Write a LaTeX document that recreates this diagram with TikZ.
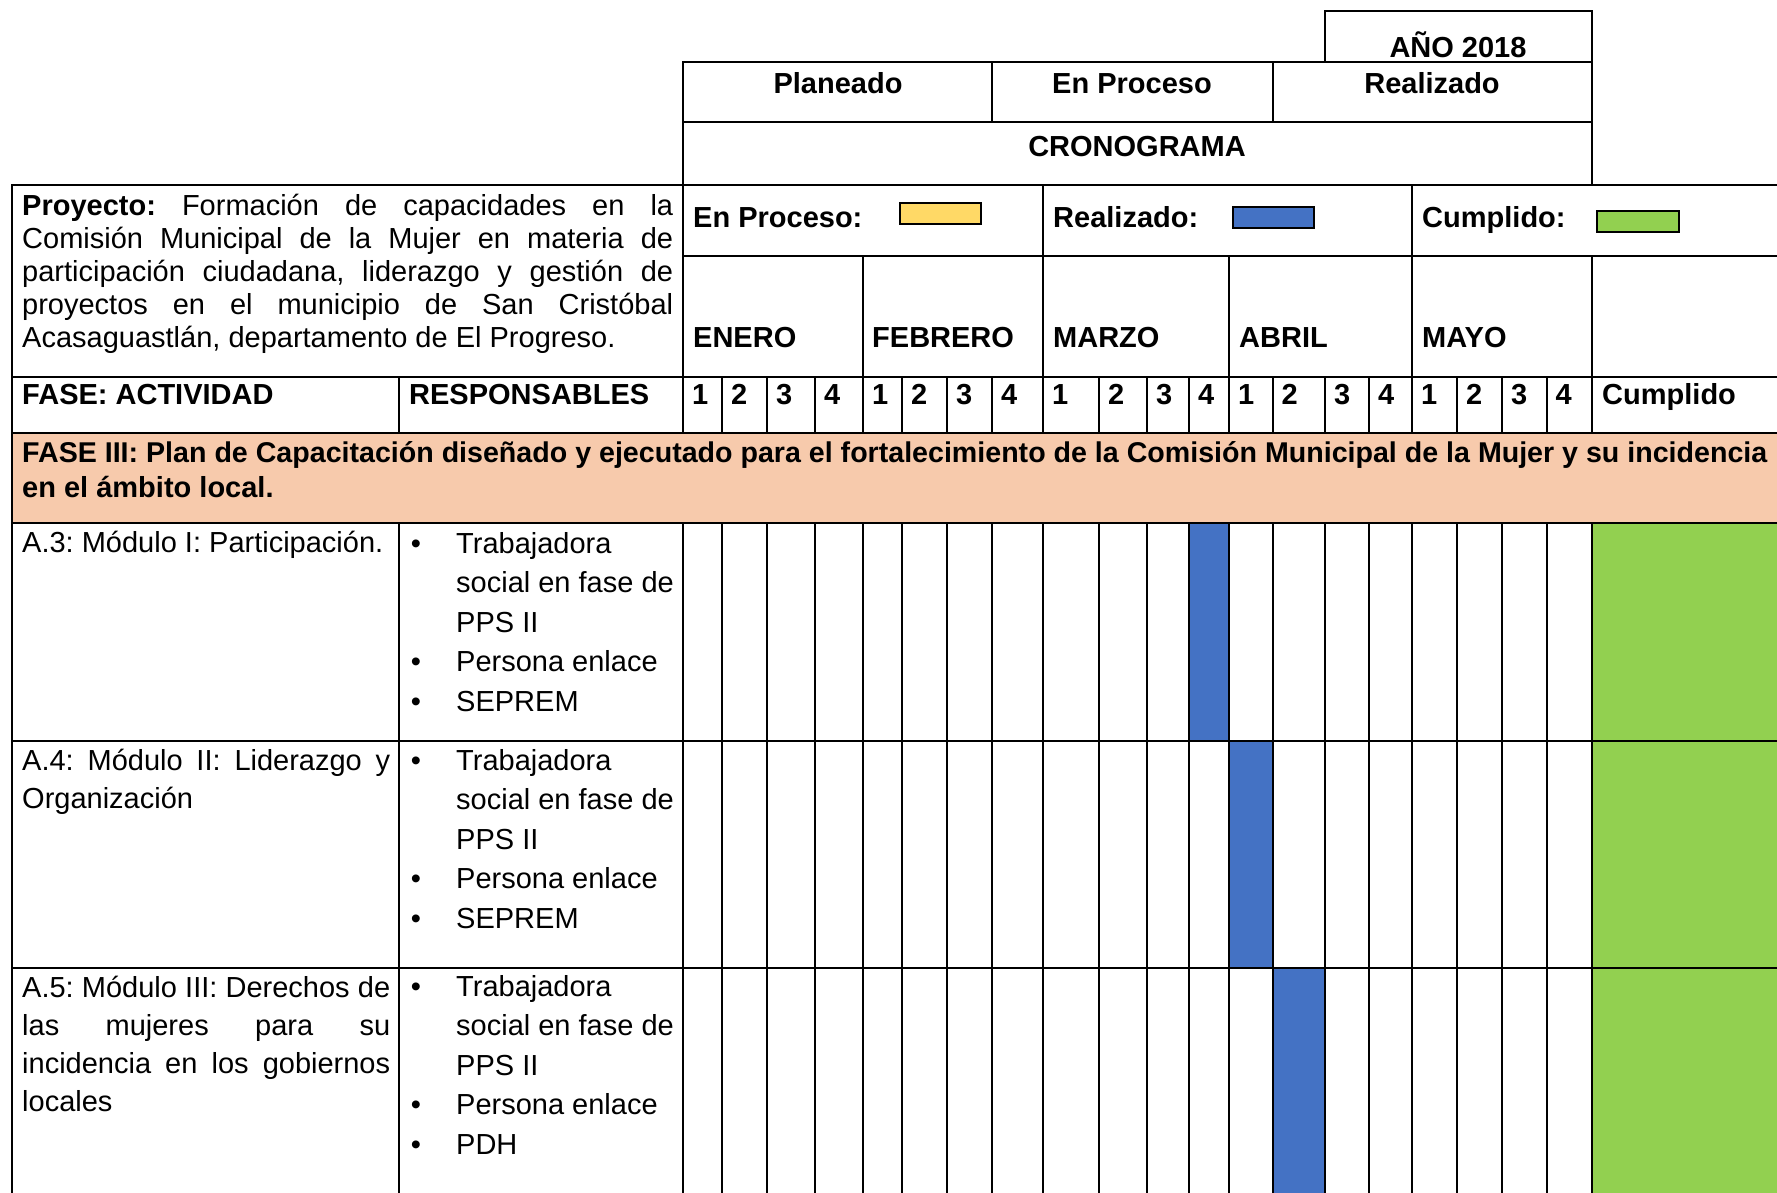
\documentclass[tikz,border=0pt]{standalone}
\usepackage{fontspec}
\setmainfont{Liberation Sans}
\usetikzlibrary{positioning}
\definecolor{fase}{HTML}{F7CAAC}
\definecolor{proceso}{HTML}{FFD966}
\definecolor{realiz}{HTML}{4472C4}
\definecolor{cumpl}{HTML}{92D050}
\newcommand{\cellfont}{\fontsize{29}{33}\selectfont\frenchspacing}

\begin{document}
\begin{tikzpicture}[x=1pt,y=-1pt,
		grid/.style={line width=2pt},
		every node/.style={inner sep=0pt,font=\cellfont},
		hd/.style={font=\cellfont\bfseries},
		swatch/.style={draw=black,line width=2.5pt}]
			\useasboundingbox (0,0) rectangle (1777,1193);

			% rellenos
			\fill[fase] (12,433) rectangle (1777,523);
			\fill[realiz] (1189,523) rectangle (1229,741);
			\fill[realiz] (1229,741) rectangle (1272.5,968);
			\fill[realiz] (1272.5,968) rectangle (1325,1193);
			\fill[cumpl] (1592,523) rectangle (1777,1193);

			% encabezado superior
			\draw[grid] (1325,11) rectangle (1592,62);
			\draw[grid] (683,62) rectangle (1592,185);
			\draw[grid] (683,122) -- (1592,122);
			\draw[grid] (992,62) -- (992,122);
			\draw[grid] (1273,62) -- (1273,122);

			% tabla
			\draw[grid] (12,1193) -- (12,185) -- (1777,185);
			\draw[grid] (683,256) -- (1777,256);
			\foreach \y in {377,433,523,741,968} \draw[grid] (12,\y) -- (1777,\y);
			\draw[grid] (683,185) -- (683,433);
			\draw[grid] (683,523) -- (683,1193);
			\foreach \x in {1043,1412} \draw[grid] (\x,185) -- (\x,256);
			\foreach \x in {863,1043,1229,1412,1592} \draw[grid] (\x,256) -- (\x,377);
			\foreach \x in {399,722,767,815,863,902,947,992,1043,1099,1147,1189,1229,1272.5,1325,1369,1412,1457,1502,1546.5,1592}
				\draw[grid] (\x,377) -- (\x,433) (\x,523) -- (\x,1193);

			\draw (1458,58) node[hd,anchor=base] (ano) {AÑO 2018};
			\draw (838,94) node[hd,anchor=base] (planeado) {Planeado};
			\draw (1132,94) node[hd,anchor=base] (enproceso) {En Proceso};
			\draw (1432,94) node[hd,anchor=base] (realizado) {Realizado};
			\draw (1137,157) node[hd,anchor=base] (crono) {CRONOGRAMA};

			% leyenda
			\draw (693,227) node[hd,anchor=base west] (legproc) {En Proceso:};
			\draw[swatch,fill=proceso] (900,203) rectangle (981,224);
			\draw (1053,227) node[hd,anchor=base west] (legreal) {Realizado:};
			\draw[swatch,fill=realiz] (1233,207) rectangle (1314,228);
			\draw (1422,227) node[hd,anchor=base west] (legcump) {Cumplido:};
			\draw[swatch,fill=cumpl] (1597,211) rectangle (1679,232);

			% proyecto
			\draw (22,215) node[anchor=base west] (proj1) {\makebox[651pt][s]{\textbf{Proyecto:} Formación de capacidades en la}};
			\draw (22,248) node[anchor=base west] (proj2) {\makebox[651pt][s]{Comisión Municipal de la Mujer en materia de}};
			\draw (22,281) node[anchor=base west] (proj3) {\makebox[651pt][s]{participación ciudadana, liderazgo y gestión de}};
			\draw (22,314) node[anchor=base west] (proj4) {\makebox[651pt][s]{proyectos en el municipio de San Cristóbal}};
			\draw (22,347) node[anchor=base west] (proj5) {Acasaguastlán, departamento de El Progreso.};

			% meses
			\foreach \x/\m in {693/ENERO,872/FEBRERO,1053/MARZO,1239/ABRIL,1422/MAYO}
				\draw (\x,347) node[hd,anchor=base west] (mes\m) {\m};

			% semanas
			\draw (22,404) node[hd,anchor=base west] (fasecol) {FASE: ACTIVIDAD};
			\draw (409,404) node[hd,anchor=base west] (respcol) {RESPONSABLES};
			\foreach \x/\n [count=\k] in {683/1,722/2,767/3,815/4,863/1,902/2,947/3,992/4,1043/1,1099/2,1147/3,1189/4,1229/1,1272.5/2,1325/3,1369/4,1412/1,1457/2,1502/3,1546.5/4}
				\draw (\x+9,404) node[hd,anchor=base west] (sem\k) {\n};
			\draw (1602,404) node[hd,anchor=base west] (cumplcol) {Cumplido};

			% fase III
			\draw (22,462) node[hd,anchor=base west,font=\fontsize{28.6}{33}\selectfont\bfseries\frenchspacing] (fase1) {FASE III: Plan de Capacitación diseñado y ejecutado para el fortalecimiento de la Comisión Municipal de la Mujer y su incidencia};
			\draw (22,497) node[hd,anchor=base west] (fase2) {en el ámbito local.};

			% actividades
			\draw (22,552) node[anchor=base west] (act3) {A.3: Módulo I: Participación.};
			\draw (22,770) node[anchor=base west] (act4a) {\makebox[368pt][s]{A.4: Módulo II: Liderazgo y}};
			\draw (22,808) node[anchor=base west] (act4b) {Organización};
			\draw (22,997) node[anchor=base west] (act5a) {\makebox[368pt][s]{A.5: Módulo III: Derechos de}};
			\draw (22,1035) node[anchor=base west] (act5b) {\makebox[368pt][s]{las mujeres para su}};
			\draw (22,1073) node[anchor=base west] (act5c) {\makebox[368pt][s]{incidencia en los gobiernos}};
			\draw (22,1111) node[anchor=base west] (act5d) {locales};

			% responsables
			\foreach \y/\ult [count=\k] in {553/SEPREM,770/SEPREM,996/PDH} {
				\draw (416,\y) node[anchor=base] (bul\k a) {\textbullet};
				\draw (416,\y+118.5) node[anchor=base] (bul\k b) {\textbullet};
				\draw (416,\y+158) node[anchor=base] (bul\k c) {\textbullet};
				\draw (456,\y) node[anchor=base west] (resp\k a) {Trabajadora};
				\draw (456,\y+39.5) node[anchor=base west] (resp\k b) {social en fase de};
				\draw (456,\y+79) node[anchor=base west] (resp\k c) {PPS II};
				\draw (456,\y+118.5) node[anchor=base west] (resp\k d) {Persona enlace};
				\draw (456,\y+158) node[anchor=base west] (resp\k e) {\ult};
			}
		    \end{tikzpicture}
\end{document}
